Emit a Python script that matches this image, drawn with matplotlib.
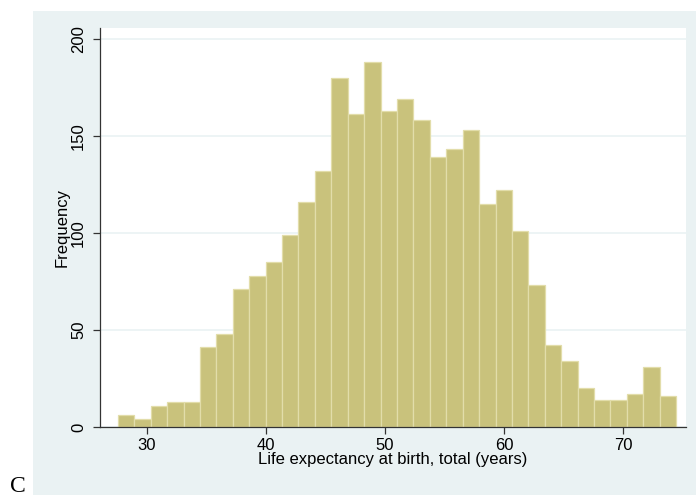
import numpy as np
import matplotlib
matplotlib.use("Agg")
import matplotlib.pyplot as plt
from matplotlib.patches import Rectangle

# histogram of life expectancy: bin start, bin width and counts
BIN_START = 27.55
BIN_WIDTH = 1.38
COUNTS = [6, 4, 11, 13, 13, 41, 48, 71, 78, 85, 99, 116, 132, 180, 161, 188, 163,
          169, 158, 139, 143, 153, 115, 122, 101, 73, 42, 34, 20, 14, 14, 17, 31, 16]
X_TICKS = [30, 40, 50, 60, 70]
Y_TICKS = [0, 50, 100, 150, 200]

PANEL = "#EAF2F3"
BAR = "#C9C27C"
BAR_EDGE = "#E2DDAA"

plt.rcParams["font.family"] = ["Liberation Sans", "DejaVu Sans"]

fig = plt.figure(figsize=(6.96, 4.98), dpi=100)
fig.patch.set_facecolor("white")
# grey-blue graph region behind the plot
fig.patches.append(Rectangle((33 / 696, 3 / 498), 1 - 33 / 696, 484 / 498,
                             transform=fig.transFigure, facecolor=PANEL,
                             edgecolor="none", zorder=-10))

ax = fig.add_axes([100 / 696, 71 / 498, 586 / 696, 399 / 498])
ax.set_facecolor("white")

edges = BIN_START + BIN_WIDTH * np.arange(len(COUNTS))
ax.bar(edges, COUNTS, width=BIN_WIDTH, align="edge", color=BAR,
       edgecolor=BAR_EDGE, linewidth=0.9, zorder=3)

ax.set_xlim(26.05, 75.3)
ax.set_ylim(0, 205.5)
ax.set_xticks(X_TICKS)
ax.set_yticks(Y_TICKS)
ax.set_yticklabels([str(v) for v in Y_TICKS], rotation=90, va="center")
ax.grid(axis="y", color=PANEL, linewidth=1.2, zorder=1)
ax.set_axisbelow(True)

for s in ["top", "right"]:
    ax.spines[s].set_visible(False)
for s in ["left", "bottom"]:
    ax.spines[s].set_color("#333333")
    ax.spines[s].set_linewidth(0.9)
    ax.spines[s].set_zorder(4)
ax.tick_params(axis="both", direction="out", length=5, width=0.9,
               color="#333333", labelsize=12)
ax.tick_params(axis="y", pad=5)
ax.tick_params(axis="x", pad=3)

ax.set_xlabel("Life expectancy at birth, total (years)", fontsize=12, labelpad=-1)
ax.set_ylabel("Frequency", fontsize=12, labelpad=1)

fig.text(0.014, 0.012, "C", family=["Liberation Serif", "DejaVu Serif"],
         fontsize=17)

fig.savefig("out.png", dpi=100)
